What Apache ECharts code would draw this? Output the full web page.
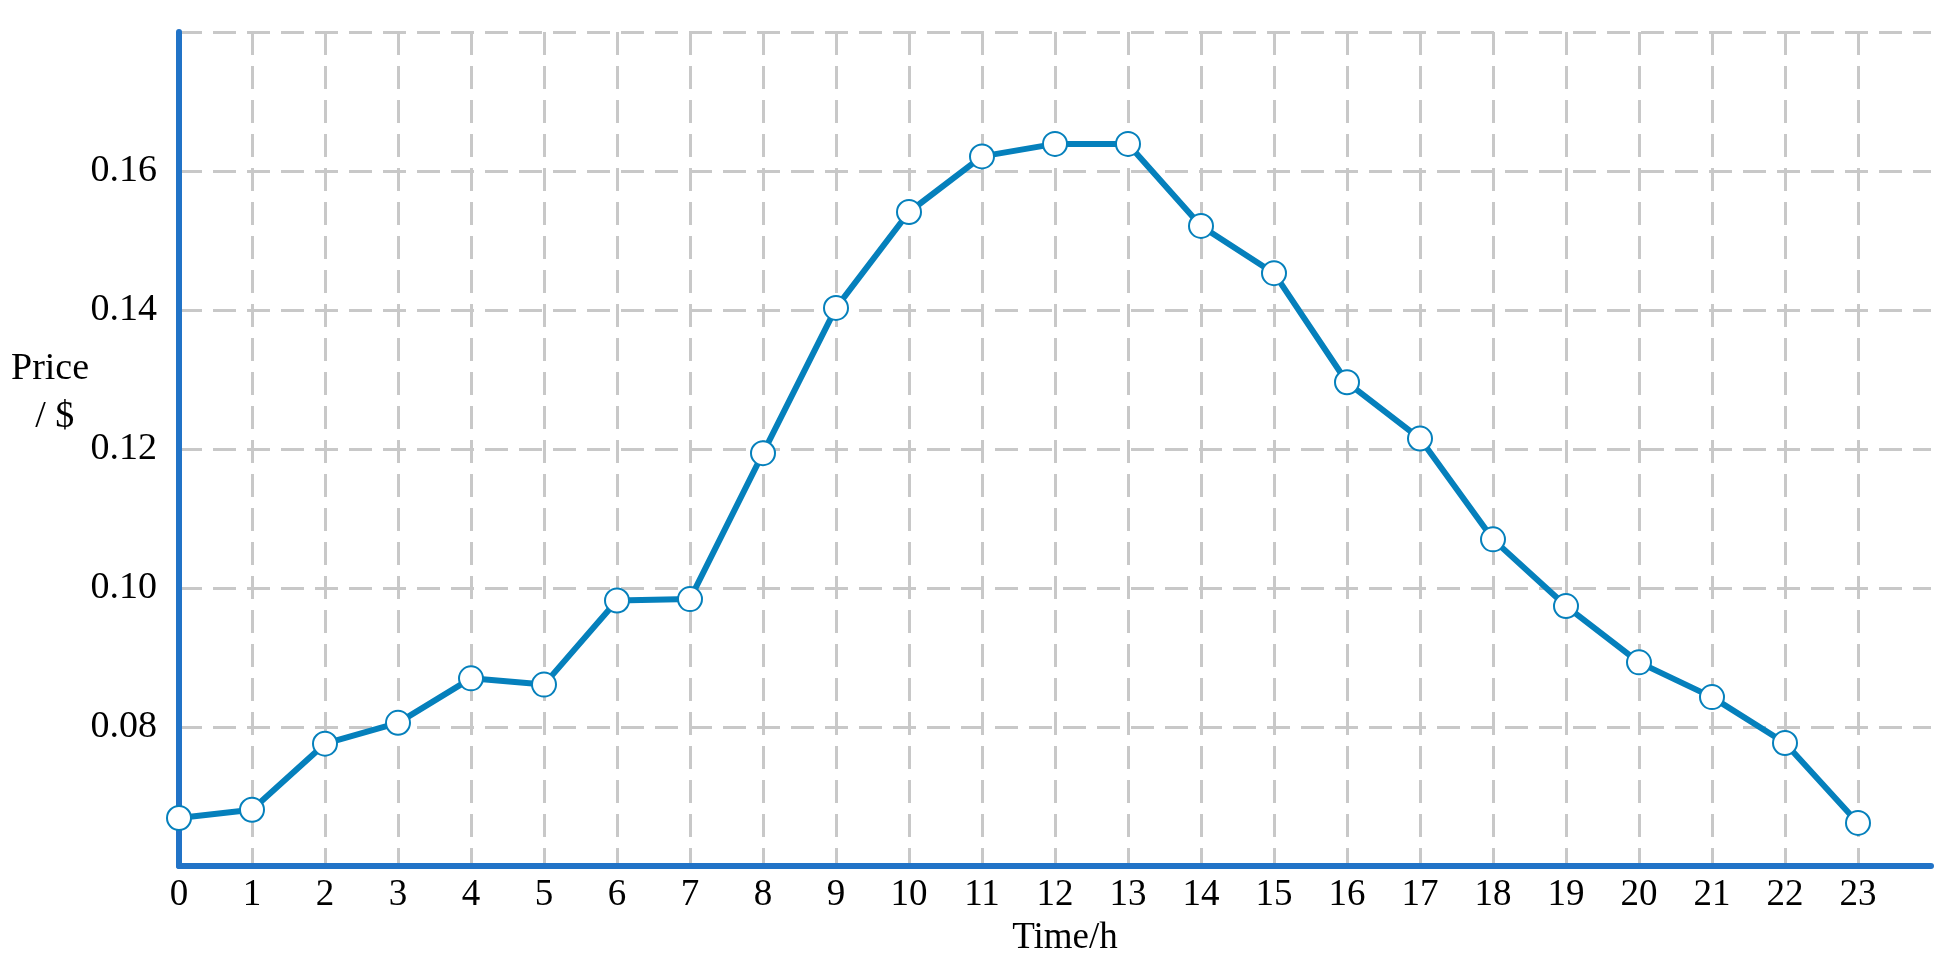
<!DOCTYPE html>
<html>
<head>
<meta charset="utf-8">
<script src="https://cdn.jsdelivr.net/npm/echarts@6/dist/echarts.min.js"></script>
<style>
html,body{margin:0;padding:0;background:#fff;}
#chart{width:1952px;height:974px;}
</style>
</head>
<body>
<div id="chart"></div>
<script>
const hours = [0,1,2,3,4,5,6,7,8,9,10,11,12,13,14,15,16,17,18,19,20,21,22,23];
const prices = [0.0669,0.0681,0.0776,0.0806,0.0870,0.0861,0.0982,0.0984,0.1194,0.1403,0.1541,0.1621,0.1639,0.1639,0.1521,0.1453,0.1296,0.1215,0.1070,0.0974,0.0893,0.0843,0.0777,0.0662];
const yTicks = [0.06,0.08,0.10,0.12,0.14,0.16,0.18];
const xName = 'Time/h';
const yNameLines = ['Price', ' / $'];

const font = '"Liberation Serif", "Times New Roman", serif';
const chart = echarts.init(document.getElementById('chart'), null, {renderer:'canvas'});
const gridStyle = {color:'#c8c8c8', width:3, type:[23,11]};
chart.setOption({
  animation:false,
  backgroundColor:'#ffffff',
  grid:{left:179, top:32, right:21, bottom:108, containLabel:false},
  xAxis:{
    type:'value', min:0, max:24, interval:1,
    name:xName, nameLocation:'middle', nameGap:54,
    nameTextStyle:{fontFamily:font, fontSize:37, color:'#000', padding:[0,0,0,20]},
    axisLine:{show:true, onZero:false, lineStyle:{color:'#2173c7', width:6}},
    axisTick:{show:false},
    axisLabel:{fontFamily:font, fontSize:37, color:'#000', margin:11, showMaxLabel:false,
      formatter:(v)=> v>23 ? '' : String(v)},
    splitLine:{show:true, showMinLine:false, showMaxLine:false, lineStyle:gridStyle}
  },
  yAxis:{
    type:'value', min:yTicks[0], max:yTicks[yTicks.length-1], interval:0.02,
    axisLine:{show:true, onZero:false, lineStyle:{color:'#2173c7', width:6}},
    axisTick:{show:false},
    axisLabel:{fontFamily:font, fontSize:38, color:'#000', margin:22, showMinLabel:false, showMaxLabel:false,
      formatter:(v)=> v.toFixed(2)},
    splitLine:{show:true, showMinLine:false, showMaxLine:true, lineStyle:gridStyle}
  },
  graphic:[{
    type:'text', left:11, top:345,
    style:{text:yNameLines.join('\n'), font:'38px ' + font, fill:'#000', lineHeight:48, textAlign:'center'}
  }],
  series:[{
    type:'line',
    data:hours.map((h,i)=>[h, prices[i]]),
    lineStyle:{color:'#0580bc', width:6},
    itemStyle:{color:'#ffffff', borderColor:'#0580bc', borderWidth:2},
    symbol:'circle', symbolSize:24, showSymbol:true,
    z:5
  }]
});
</script>
</body>
</html>
